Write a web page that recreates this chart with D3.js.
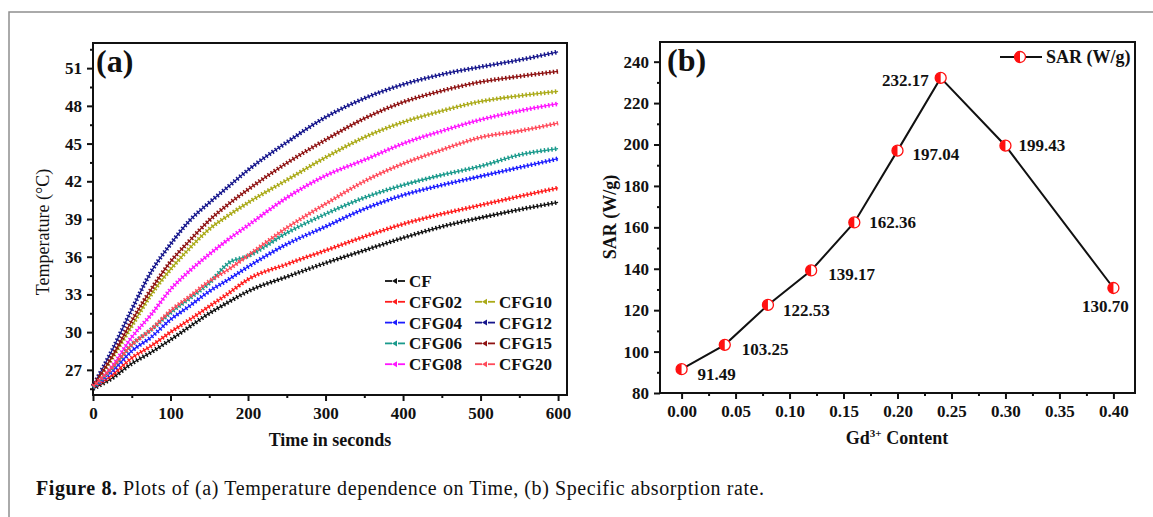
<!DOCTYPE html>
<html>
<head>
<meta charset="utf-8">
<script src="https://cdn.jsdelivr.net/npm/d3@7"></script>
<style>
  body { margin: 0; background: #fff; }
  svg { display: block; }
  text { font-family: "Liberation Serif", "Times New Roman", Tinos, "DejaVu Serif", serif; fill: #111; }
</style>
</head>
<body>
<div id="chart"></div>
<script>
// ---- data: panel (a), temperature vs time ----
var times  = [0, 25, 50, 75, 100, 125, 150, 175, 200, 250, 300, 350, 400, 450, 500, 550, 600];
var cf     = [25.5, 26.35, 27.5, 28.4, 29.4, 30.45, 31.5, 32.4, 33.25, 34.4, 35.5, 36.5, 37.5, 38.4, 39.1, 39.75, 40.33];
var cfg02  = [25.6, 26.6, 27.95, 28.9, 30.0, 31.0, 32.05, 33.1, 34.2, 35.4, 36.5, 37.6, 38.6, 39.4, 40.1, 40.8, 41.47];
var cfg04  = [25.6, 26.9, 28.5, 29.6, 31.0, 32.1, 33.25, 34.2, 35.2, 37.0, 38.4, 39.8, 40.9, 41.7, 42.4, 43.1, 43.8];
var cfg06  = [25.6, 27.15, 29.0, 30.2, 31.55, 32.7, 33.9, 35.5, 36.05, 37.9, 39.4, 40.7, 41.7, 42.5, 43.2, 44.1, 44.6];
var cfg08  = [25.7, 27.3, 29.6, 31.4, 33.4, 34.9, 36.2, 37.4, 38.5, 40.7, 42.45, 43.7, 45.0, 46.0, 46.9, 47.6, 48.17];
var cfg10  = [25.7, 28.0, 30.5, 33.0, 35.0, 36.7, 38.2, 39.3, 40.3, 42.1, 43.9, 45.5, 46.7, 47.6, 48.35, 48.8, 49.15];
var cfg12  = [25.7, 28.6, 31.8, 34.8, 37.0, 38.9, 40.3, 41.6, 42.9, 45.1, 47.1, 48.6, 49.7, 50.5, 51.1, 51.65, 52.3];
var cfg15  = [25.7, 28.1, 30.9, 33.4, 35.6, 37.3, 38.9, 40.2, 41.35, 43.45, 45.3, 47.0, 48.3, 49.2, 49.9, 50.35, 50.74];
var cfg20  = [25.7, 27.2, 29.0, 30.2, 31.7, 32.85, 34.05, 35.0, 36.1, 38.3, 40.2, 42.0, 43.4, 44.5, 45.5, 46.0, 46.63];
var seriesNames = ["CF", "CFG02", "CFG04", "CFG06", "CFG08", "CFG10", "CFG12", "CFG15", "CFG20"];
var timeTicks = [0, 100, 200, 300, 400, 500, 600];
var tempTicks = [27, 30, 33, 36, 39, 42, 45, 48, 51];

// ---- data: panel (b), SAR vs Gd content ----
var gdContent = [0.00, 0.04, 0.08, 0.12, 0.16, 0.20, 0.24, 0.30, 0.40];
var sarValues = [91.49, 103.25, 122.53, 139.17, 162.36, 197.04, 232.17, 199.43, 130.70];
var gdTicks   = [0.00, 0.05, 0.10, 0.15, 0.20, 0.25, 0.30, 0.35, 0.40];
var sarTicks  = [80, 100, 120, 140, 160, 180, 200, 220, 240];

var W = 1153, H = 517;
var SERIF = '"Liberation Serif", "Times New Roman", Tinos, "DejaVu Serif", serif';
var svg = d3.select("#chart").append("svg").attr("width", W).attr("height", H)
  .attr("font-family", SERIF);

// outer figure frame (only top/left visible)
svg.append("path")
  .attr("d", "M9," + H + "V12H" + W)
  .attr("fill", "none").attr("stroke", "#8f8f8f").attr("stroke-width", 1.5);

var seriesValues = [cf, cfg02, cfg04, cfg06, cfg08, cfg10, cfg12, cfg15, cfg20];
var colors = ["#111111", "#ff1c1c", "#1c1cff", "#1a9a8c", "#ff14ff", "#aaaa18", "#16168c", "#8e1212", "#ff4a5a"];

// ---------------- panel (a) ----------------
var xa = d3.scaleLinear().domain([0, 611.5]).range([93, 567]);
var ya = d3.scaleLinear().domain([25, 53]).range([395, 43]);
var ga = svg.append("g");

function drawAxes(g, x, y, xt, xminor, yt, yminor, xfmt, yfmt) {
  var bottom = y.range()[0], left = x.range()[0];
  g.append("g").attr("transform", "translate(0," + bottom + ")")
    .call(d3.axisBottom(x).tickValues(xminor).tickSize(3).tickFormat(""))
    .call(function(s) { s.select(".domain").remove(); });
  g.append("g").attr("transform", "translate(0," + bottom + ")")
    .call(d3.axisBottom(x).tickValues(xt).tickSize(6).tickPadding(6).tickFormat(xfmt))
    .call(function(s) { s.select(".domain").remove(); });
  g.append("g").attr("transform", "translate(" + left + ",0)")
    .call(d3.axisLeft(y).tickValues(yminor).tickSize(3).tickFormat(""))
    .call(function(s) { s.select(".domain").remove(); });
  g.append("g").attr("transform", "translate(" + left + ",0)")
    .call(d3.axisLeft(y).tickValues(yt).tickSize(6).tickPadding(5).tickFormat(yfmt))
    .call(function(s) { s.select(".domain").remove(); });
  g.selectAll("g").attr("font-family", SERIF);
  g.selectAll(".tick line").attr("stroke", "#111").attr("stroke-width", 2);
  g.selectAll(".tick text")
    .style("font-family", SERIF)
    .style("font-size", "17px").style("font-weight", "bold").attr("fill", "#111");
  // box
  g.append("rect")
    .attr("x", x.range()[0]).attr("y", y.range()[1])
    .attr("width", x.range()[1] - x.range()[0]).attr("height", y.range()[0] - y.range()[1])
    .attr("fill", "none").attr("stroke", "#111").attr("stroke-width", 2);
}

drawAxes(ga, xa, ya, timeTicks, [50, 150, 250, 350, 450, 550],
  tempTicks, [25.5, 28.5, 31.5, 34.5, 37.5, 40.5, 43.5, 46.5, 49.5, 52.5],
  d3.format("d"), d3.format("d"));

var lineA = d3.line()
  .x(function(d, i) { return xa(times[i]); })
  .y(function(d) { return ya(d); })
  .curve(d3.curveMonotoneX);

seriesValues.forEach(function(vals, k) {
  ga.append("path").datum(vals)
    .attr("d", lineA).attr("fill", "none")
    .attr("stroke", colors[k]).attr("stroke-width", 1.3);
  ga.append("path").datum(vals)
    .attr("d", lineA).attr("fill", "none")
    .attr("stroke", colors[k]).attr("stroke-width", 4.5)
    .attr("stroke-dasharray", "1.5 2.2");
});

ga.append("text").attr("x", 96).attr("y", 72)
  .style("font-size", "32px").style("font-weight", "bold").text("(a)");
ga.append("text").attr("x", 330).attr("y", 446).attr("text-anchor", "middle")
  .style("font-size", "18px").style("font-weight", "bold").text("Time in seconds");
ga.append("text").attr("transform", "translate(49,232) rotate(-90)")
  .attr("text-anchor", "middle").style("font-size", "18px").text("Temperature (\u00B0C)");

// legend (a)
var legA = ga.append("g");
seriesNames.forEach(function(name, k) {
  var col = k <= 4 ? 0 : 1;
  var row = k <= 4 ? k : k - 4;
  var lx = col === 0 ? 385 : 475;
  var ly = 281 + row * 20.8;
  var g = legA.append("g").attr("transform", "translate(" + lx + "," + ly + ")");
  g.append("line").attr("x1", 0).attr("x2", 7).attr("stroke", colors[k]).attr("stroke-width", 1.8);
  g.append("line").attr("x1", 13).attr("x2", 20).attr("stroke", colors[k]).attr("stroke-width", 1.8);
  g.append("path").attr("d", "M7,0L12,-3L12,3Z").attr("fill", colors[k]);
  g.append("text").attr("x", 24).attr("y", 0).attr("dy", "0.35em")
    .style("font-size", "17px").style("font-weight", "bold").text(name);
});

// ---------------- panel (b) ----------------
var xb = d3.scaleLinear().domain([-0.02, 0.42]).range([660, 1135]);
var yb = d3.scaleLinear().domain([80, 249.5]).range([393, 42]);
var gb = svg.append("g");

drawAxes(gb, xb, yb, gdTicks, [0.025, 0.075, 0.125, 0.175, 0.225, 0.275, 0.325, 0.375],
  sarTicks, [90, 110, 130, 150, 170, 190, 210, 230],
  d3.format(".2f"), d3.format("d"));

var lineB = d3.line()
  .x(function(d, i) { return xb(gdContent[i]); })
  .y(function(d) { return yb(d); });

gb.append("path").datum(sarValues)
  .attr("d", lineB).attr("fill", "none")
  .attr("stroke", "#111").attr("stroke-width", 2);

function halfMarker(g, r) {
  g.append("circle").attr("r", r).attr("fill", "#fff").attr("stroke", "#ff1010").attr("stroke-width", 1.3);
  g.append("path").attr("d", "M0," + (-r) + "A" + r + "," + r + " 0 0 0 0," + r + "Z").attr("fill", "#ff1010");
}

// label placement around each point: [dx, dy, anchor]
var labelPlace = [
  [16, 5, "start"], [17, 4, "start"], [15, 5, "start"], [17, 4, "start"], [15, 0, "start"],
  [15, 3, "start"], [-12, 2, "end"], [13, -1, "start"], [-8, 18, "middle"]
];

sarValues.forEach(function(v, i) {
  var px = xb(gdContent[i]), py = yb(v);
  var g = gb.append("g").attr("transform", "translate(" + px + "," + py + ")");
  halfMarker(g, 5.5);
  gb.append("text")
    .attr("x", px + labelPlace[i][0]).attr("y", py + labelPlace[i][1])
    .attr("dy", "0.35em").attr("text-anchor", labelPlace[i][2])
    .style("font-size", "17px").style("font-weight", "bold")
    .text(d3.format(".2f")(v));
});

gb.append("text").attr("x", 667).attr("y", 71)
  .style("font-size", "32px").style("font-weight", "bold").text("(b)");

var xlab = gb.append("text").attr("x", 897).attr("y", 444).attr("text-anchor", "middle")
  .style("font-size", "18px").style("font-weight", "bold");
xlab.append("tspan").text("Gd");
xlab.append("tspan").attr("dy", -7).style("font-size", "11px").text("3+");
xlab.append("tspan").attr("dy", 7).text(" Content");

gb.append("text").attr("transform", "translate(616,217) rotate(-90)")
  .attr("text-anchor", "middle").style("font-size", "18px").style("font-weight", "bold")
  .text("SAR (W/g)");

// legend (b)
var legB = gb.append("g").attr("transform", "translate(1000,57)");
legB.append("line").attr("x1", 0).attr("x2", 42).attr("stroke", "#111").attr("stroke-width", 2);
halfMarker(legB.append("g").attr("transform", "translate(20,0)"), 5.5);
legB.append("text").attr("x", 46).attr("dy", "0.35em")
  .style("font-size", "18px").style("font-weight", "bold").text("SAR (W/g)");

// caption
var cap = svg.append("text").attr("x", 36).attr("y", 495).style("font-size", "20px")
  .attr("textLength", 728).attr("lengthAdjust", "spacing");
cap.append("tspan").style("font-weight", "bold").text("Figure 8.");
cap.append("tspan").text(" Plots of (a) Temperature dependence on Time, (b) Specific absorption rate.");
</script>
</body>
</html>
